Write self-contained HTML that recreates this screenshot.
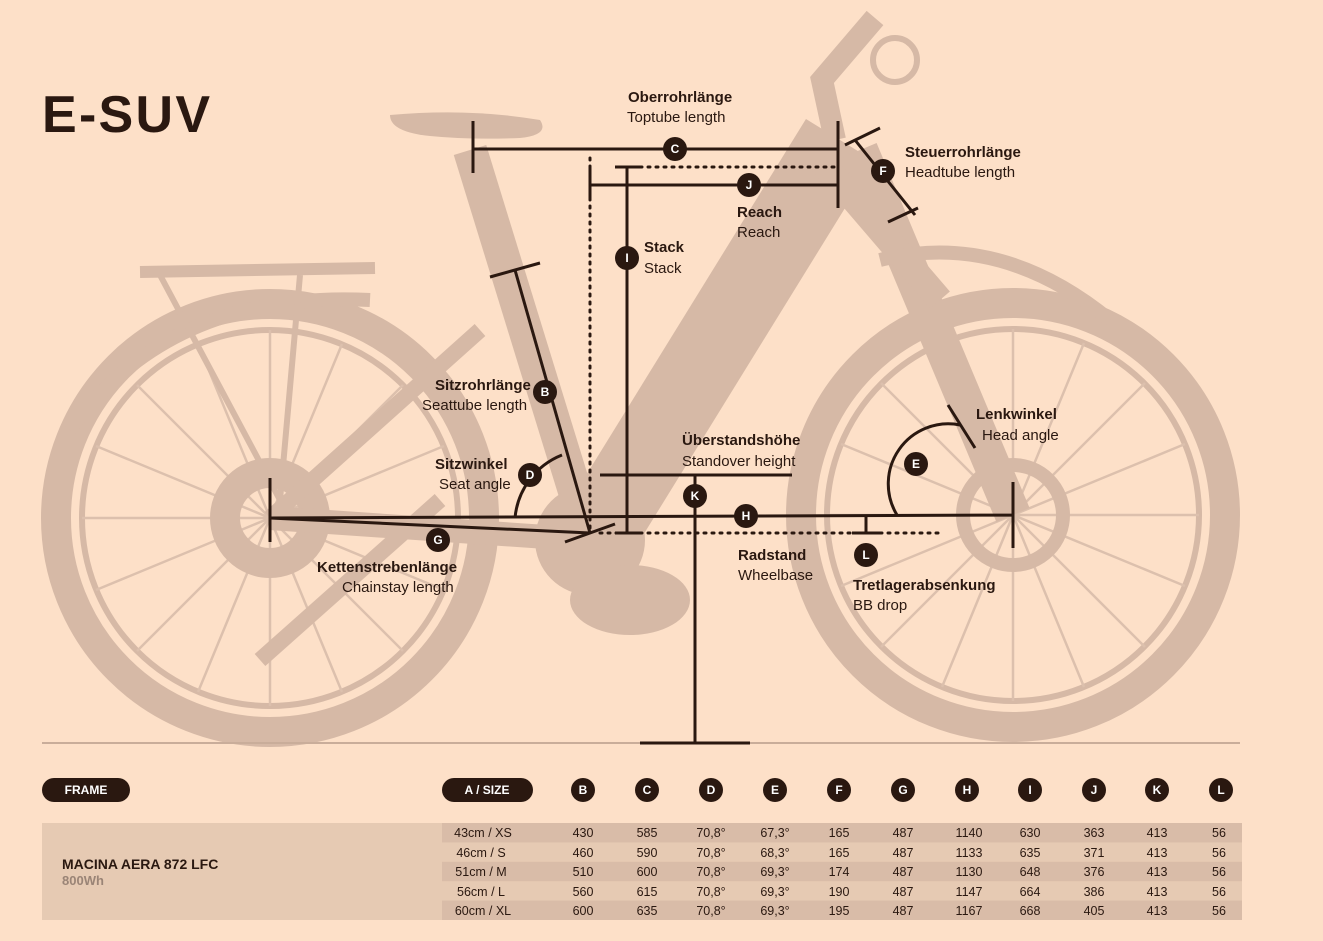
<!DOCTYPE html>
<html><head><meta charset="utf-8"><style>
html,body{margin:0;padding:0;background:#fde0c8;}
svg{display:block}
text{font-family:"Liberation Sans",sans-serif}
.b{font-weight:bold;font-size:15px;fill:#2a1810}
.n{font-size:15px;fill:#2a1810}
.c{fill:#fff;font-weight:bold;font-size:12px;text-anchor:middle}
.t{font-size:12.5px;fill:#2a1810;text-anchor:middle;font-family:"Liberation Mono",monospace}
</style></head><body>
<svg width="1323" height="941" viewBox="0 0 1323 941">
<rect width="1323" height="941" fill="#fde0c8"/>
<!-- bike silhouette -->
<g fill="none" stroke="#d6b9a6">
 <circle cx="270" cy="518" r="214" stroke-width="30"/>
 <circle cx="1013" cy="515" r="212" stroke-width="30"/>
 <circle cx="270" cy="518" r="188" stroke-width="6"/>
 <circle cx="1013" cy="515" r="186" stroke-width="6"/>
 <g stroke-width="2.5" stroke="#dcc0ad">
  <path d="M270 518 L270 330 M270 518 L270 706 M270 518 L82 518 M270 518 L458 518 M270 518 L137 385 M270 518 L403 651 M270 518 L403 385 M270 518 L137 651 M270 518 L198 344 M270 518 L342 692 M270 518 L342 344 M270 518 L198 692 M270 518 L96 446 M270 518 L444 590 M270 518 L96 590 M270 518 L444 446"/>
  <path d="M1013 515 L1013 329 M1013 515 L1013 701 M1013 515 L827 515 M1013 515 L1199 515 M1013 515 L881 383 M1013 515 L1145 647 M1013 515 L1145 383 M1013 515 L881 647 M1013 515 L942 343 M1013 515 L1084 687 M1013 515 L1084 343 M1013 515 L942 687 M1013 515 L841 444 M1013 515 L1185 586 M1013 515 L841 586 M1013 515 L1185 444"/>
 </g>
 <circle cx="270" cy="518" r="45" stroke-width="30"/>
 <circle cx="1013" cy="515" r="50" stroke-width="14"/>
 <path d="M70 430 Q170 290 370 300" stroke-width="14"/>
 <path d="M140 272 L375 268" stroke-width="12"/>
 <path d="M160 275 L280 500 M300 275 L280 500" stroke-width="6"/>
 <path d="M470 150 L590 540" stroke-width="34"/>
 <path d="M840 140 L590 545" stroke-width="80"/>
 <path d="M270 518 L590 540" stroke-width="24"/>
 <path d="M270 518 L480 330" stroke-width="16"/>
 <path d="M860 150 L1013 515" stroke-width="36"/>
 <path d="M835 140 L822 80 L875 18" stroke-width="22"/>
 <path d="M820 160 L940 300" stroke-width="26"/>
 <path d="M880 260 Q1000 230 1110 320" stroke-width="14"/>
 <path d="M440 500 L260 660" stroke-width="16"/>
</g>
<g fill="#d6b9a6">
 <path d="M390 115 Q470 108 540 120 Q550 135 520 138 Q470 140 430 136 Q390 132 390 115Z"/>
 <circle cx="590" cy="540" r="55"/>
 <ellipse cx="630" cy="600" rx="60" ry="35"/>
 <circle cx="895" cy="60" r="22" fill="none" stroke="#d6b9a6" stroke-width="6"/>
</g>
<line x1="42" y1="743" x2="1240" y2="743" stroke="#c9ad9a" stroke-width="2"/>
<!-- measurement lines -->
<g stroke="#2a1810" stroke-width="3" fill="none">
 <path d="M473 149 H838 M473 121 V173 M838 121 V208"/>
 <path d="M590 185 H838 M590 168 V198"/>
 <path d="M627 167 V533 M615 167 H640 M615 533 H640"/>
 <path d="M270 518 L1013 515 M270 478 V542 M1013 482 V548"/>
 <path d="M270 518 L590 533 M565 542 L615 524"/>
 <path d="M515 270 L590 533 M490 277 L540 263"/>
 <path d="M515 518 A75 75 0 0 1 562 455"/>
 <path d="M600 475 H792 M695 475 V743 M640 743 H750"/>
 <path d="M866 517 V533 M852 533 H880"/>
 <path d="M855 140 L915 215 M845 145 L880 128 M888 222 L918 208"/>
 <path d="M897 515 A60 60 0 0 1 960 425 M948 405 L975 448"/>
</g>
<g stroke="#2a1810" stroke-width="3" stroke-dasharray="2 6" stroke-linecap="round" fill="none">
 <path d="M640 167 H836"/>
 <path d="M590 158 V530"/>
 <path d="M600 533 H940"/>
</g>
<!-- badges -->
<g fill="#2a1810">
 <circle cx="675" cy="149" r="12"/><circle cx="749" cy="185" r="12"/><circle cx="883" cy="171" r="12"/>
 <circle cx="627" cy="258" r="12"/><circle cx="545" cy="392" r="12"/><circle cx="530" cy="475" r="12"/>
 <circle cx="916" cy="464" r="12"/><circle cx="695" cy="496" r="12"/><circle cx="746" cy="516" r="12"/>
 <circle cx="438" cy="540" r="12"/><circle cx="866" cy="555" r="12"/>
</g>
<g class="c">
 <text x="675" y="153">C</text><text x="749" y="189">J</text><text x="883" y="175">F</text>
 <text x="627" y="262">I</text><text x="545" y="396">B</text><text x="530" y="479">D</text>
 <text x="916" y="468">E</text><text x="695" y="500">K</text><text x="746" y="520">H</text>
 <text x="438" y="544">G</text><text x="866" y="559">L</text>
</g>
<text x="42" y="132" style="font-size:52px;font-weight:bold;fill:#2a1810" textLength="168">E-SUV</text>
<text class="b" x="628" y="102">Oberrohrlänge</text><text class="n" x="627" y="122">Toptube length</text>
<text class="b" x="905" y="157">Steuerrohrlänge</text><text class="n" x="905" y="177">Headtube length</text>
<text class="b" x="737" y="217">Reach</text><text class="n" x="737" y="237">Reach</text>
<text class="b" x="644" y="252">Stack</text><text class="n" x="644" y="273">Stack</text>
<text class="b" x="435" y="390">Sitzrohrlänge</text><text class="n" x="422" y="410">Seattube length</text>
<text class="b" x="435" y="469">Sitzwinkel</text><text class="n" x="439" y="489">Seat angle</text>
<text class="b" x="682" y="445">Überstandshöhe</text><text class="n" x="682" y="466">Standover height</text>
<text class="b" x="976" y="419">Lenkwinkel</text><text class="n" x="982" y="440">Head angle</text>
<text class="b" x="738" y="560">Radstand</text><text class="n" x="738" y="580">Wheelbase</text>
<text class="b" x="317" y="572">Kettenstrebenlänge</text><text class="n" x="342" y="592">Chainstay length</text>
<text class="b" x="853" y="590">Tretlagerabsenkung</text><text class="n" x="853" y="610">BB drop</text>
<!-- table -->
<rect x="42" y="778" width="88" height="24" rx="12" fill="#2a1810"/>
<text x="86" y="794" class="c" style="font-size:12px">FRAME</text>
<rect x="442" y="778" width="91" height="24" rx="12" fill="#2a1810"/>
<text x="487" y="794" class="c" style="font-size:12px">A / SIZE</text>
<g fill="#2a1810">
 <circle cx="583" cy="790" r="12"/><circle cx="647" cy="790" r="12"/><circle cx="711" cy="790" r="12"/><circle cx="775" cy="790" r="12"/><circle cx="839" cy="790" r="12"/><circle cx="903" cy="790" r="12"/><circle cx="967" cy="790" r="12"/><circle cx="1030" cy="790" r="12"/><circle cx="1094" cy="790" r="12"/><circle cx="1157" cy="790" r="12"/><circle cx="1221" cy="790" r="12"/>
</g>
<g class="c">
 <text x="583" y="794">B</text><text x="647" y="794">C</text><text x="711" y="794">D</text><text x="775" y="794">E</text><text x="839" y="794">F</text><text x="903" y="794">G</text><text x="967" y="794">H</text><text x="1030" y="794">I</text><text x="1094" y="794">J</text><text x="1157" y="794">K</text><text x="1221" y="794">L</text>
</g>
<rect x="42" y="823" width="1200" height="97" fill="#e6cab3"/>
<rect x="442" y="823" width="800" height="19.4" fill="#d9bca8"/>
<rect x="442" y="861.8" width="800" height="19.4" fill="#d9bca8"/>
<rect x="442" y="900.6" width="800" height="19.4" fill="#d9bca8"/>
<text x="62" y="869" style="font-size:14px;font-weight:bold;fill:#2a1810">MACINA AERA 872 LFC</text>
<text x="62" y="885" style="font-size:13px;font-weight:bold;fill:#9a8476">800Wh</text>
<g class="t">
<text x="483" y="837">43cm / XS</text><text x="583" y="837">430</text><text x="647" y="837">585</text><text x="711" y="837">70,8°</text><text x="775" y="837">67,3°</text><text x="839" y="837">165</text><text x="903" y="837">487</text><text x="969" y="837">1140</text><text x="1030" y="837">630</text><text x="1094" y="837">363</text><text x="1157" y="837">413</text><text x="1219" y="837">56</text>
<text x="481" y="857">46cm / S</text><text x="583" y="857">460</text><text x="647" y="857">590</text><text x="711" y="857">70,8°</text><text x="775" y="857">68,3°</text><text x="839" y="857">165</text><text x="903" y="857">487</text><text x="969" y="857">1133</text><text x="1030" y="857">635</text><text x="1094" y="857">371</text><text x="1157" y="857">413</text><text x="1219" y="857">56</text>
<text x="481" y="876">51cm / M</text><text x="583" y="876">510</text><text x="647" y="876">600</text><text x="711" y="876">70,8°</text><text x="775" y="876">69,3°</text><text x="839" y="876">174</text><text x="903" y="876">487</text><text x="969" y="876">1130</text><text x="1030" y="876">648</text><text x="1094" y="876">376</text><text x="1157" y="876">413</text><text x="1219" y="876">56</text>
<text x="481" y="896">56cm / L</text><text x="583" y="896">560</text><text x="647" y="896">615</text><text x="711" y="896">70,8°</text><text x="775" y="896">69,3°</text><text x="839" y="896">190</text><text x="903" y="896">487</text><text x="969" y="896">1147</text><text x="1030" y="896">664</text><text x="1094" y="896">386</text><text x="1157" y="896">413</text><text x="1219" y="896">56</text>
<text x="483" y="915">60cm / XL</text><text x="583" y="915">600</text><text x="647" y="915">635</text><text x="711" y="915">70,8°</text><text x="775" y="915">69,3°</text><text x="839" y="915">195</text><text x="903" y="915">487</text><text x="969" y="915">1167</text><text x="1030" y="915">668</text><text x="1094" y="915">405</text><text x="1157" y="915">413</text><text x="1219" y="915">56</text>
</g>
</svg>
</body></html>
